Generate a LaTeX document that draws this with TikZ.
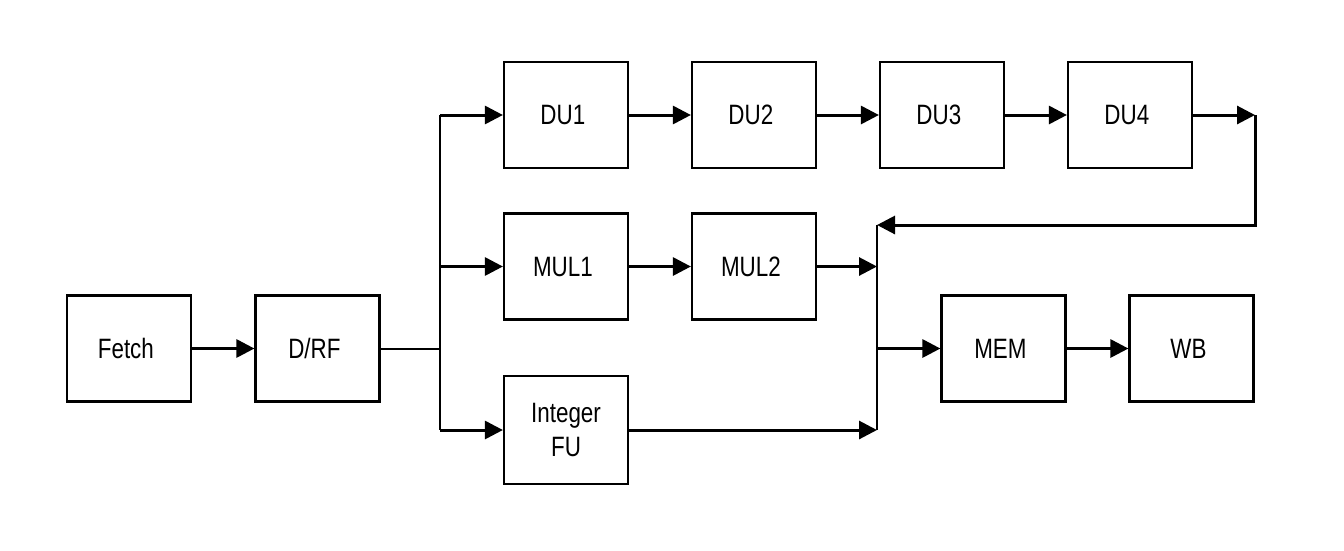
\documentclass[tikz,border=0pt]{standalone}
\usepackage{fontspec}
\newfontfamily\boxfont[FakeStretch=0.8]{Liberation Sans}
\usetikzlibrary{arrows.meta}
\tikzset{
	stage/.style={ draw, line width=2.2pt, minimum width=124pt, minimum height=106pt, inner sep=0pt, align=center, font=\boxfont\fontsize{28}{34}\selectfont },
	arr/.style={ line width=3pt, -{Triangle[length=18pt,width=18pt]} },
	bus/.style={ line width=2.5pt }
}
\begin{document}
\begin{tikzpicture}[ x=1pt, y=-1pt ]
	  \useasboundingbox (0,0) rectangle (1344,550);

	  \node [ stage ] (fetch) at (129,348.5) { Fetch };
	  \node [ stage ] (drf) at (317.5,348.5) { D/RF };

	  \node [ stage ] (du1) at (566,115) { DU1 };
	  \node [ stage ] (du2) at (754,115) { DU2 };
	  \node [ stage ] (du3) at (942,115) { DU3 };
	  \node [ stage ] (du4) at (1130,115) { DU4 };

	  \node [ stage ] (mul1) at (566,266.5) { MUL1 };
	  \node [ stage ] (mul2) at (754,266.5) { MUL2 };

	  \node [ stage, minimum height=108pt ] (intfu) at (566,430) { Integer\\FU };

	  \node [ stage ] (mem) at (1003.5,348.5) { MEM };
	  \node [ stage ] (wb) at (1191.5,348.5) { WB };

	  \coordinate (ltop) at (440,115);
	  \coordinate (lbot) at (440,430);
	  \coordinate (rtop) at (877,225);
	  \coordinate (rbot) at (877,430);
	  \coordinate (loop) at (1255,115);

	  \draw [arr] (fetch) -- (drf);
	  \draw [line width=2pt] (drf.east) -- (drf.east -| ltop);
	  \draw [bus] (ltop) -- (lbot);

	  \draw [arr] (ltop) -- (du1);
	  \draw [arr] (ltop |- mul1) -- (mul1);
	  \draw [arr] (lbot) -- (intfu);

	  \draw [arr] (du1) -- (du2);
	  \draw [arr] (du2) -- (du3);
	  \draw [arr] (du3) -- (du4);
	  \draw [arr] (du4) -- (loop);
	  \draw [arr] (loop) |- (rtop);

	  \draw [arr] (mul1) -- (mul2);
	  \draw [arr] (mul2.east) -- (mul2.east -| rtop);
	  \draw [arr] (intfu.east) -- (rbot);
	  \draw [bus] (rtop) -- (rbot);

	  \draw [arr] (rtop |- mem) -- (mem);
	  \draw [arr] (mem) -- (wb);
	\end{tikzpicture}
\end{document}
